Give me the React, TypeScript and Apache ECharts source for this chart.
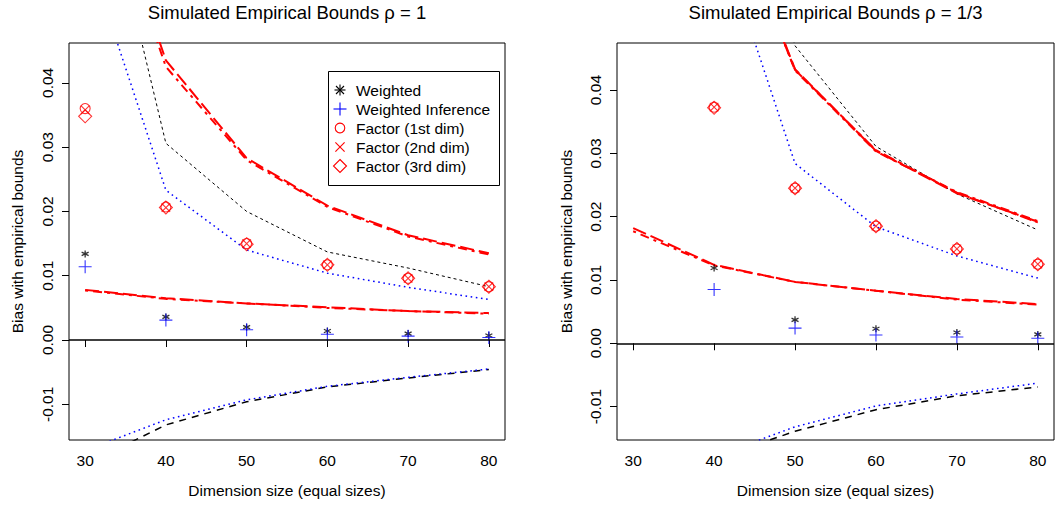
import React, { useEffect, useRef } from "react";
import * as echarts from "echarts";

const FONT = '"Liberation Sans", Arial, Helvetica, sans-serif';

const dims = [30, 40, 50, 60, 70, 80];
const xTicks = [30, 40, 50, 60, 70, 80];
const yTicks = [-0.01, 0, 0.01, 0.02, 0.03, 0.04];
const xTitle = "Dimension size (equal sizes)";
const yTitle = "Bias with empirical bounds";
const panelTitles = ["Simulated Empirical Bounds \u03C1 = 1", "Simulated Empirical Bounds \u03C1 = 1/3"];
const legendNames = ["Weighted", "Weighted Inference", "Factor (1st dim)", "Factor (2nd dim)", "Factor (3rd dim)"];

// ---- rho = 1 ----
const weighted1 = [0.0134, 0.0036, 0.002, 0.0014, 0.001, 0.0007];
const weightedInf1 = [0.0114, 0.0031, 0.0016, 0.0009, 0.0006, 0.0004];
const factor1st1 = [0.036, 0.0207, 0.015, 0.0117, 0.0096, 0.0083];
const factor2nd1 = [0.0358, 0.0206, 0.015, 0.0117, 0.0096, 0.0083];
const factor3rd1 = [0.0348, 0.0206, 0.0149, 0.0117, 0.0096, 0.0083];
const weightedUp1 = [0.0831, 0.0306, 0.02, 0.0137, 0.0112, 0.0083];
const weightedInfUp1 = [0.0614, 0.0233, 0.014, 0.0104, 0.0082, 0.0063];
const factorUpA1 = [0.08, 0.0435, 0.0283, 0.0209, 0.0163, 0.0135];
const factorUpB1 = [0.079, 0.0425, 0.028, 0.0207, 0.0161, 0.0133];
const factorLoA1 = [0.0078, 0.0065, 0.0057, 0.0051, 0.0045, 0.0042];
const factorLoB1 = [0.0077, 0.0064, 0.0057, 0.005, 0.0045, 0.0041];
const weightedLo1 = [-0.0194, -0.0132, -0.0096, -0.0073, -0.0059, -0.0046];
const weightedInfLo1 = [-0.0172, -0.0124, -0.0093, -0.0072, -0.0058, -0.0045];

// ---- rho = 1/3 ----
const weighted3 = [null, 0.0119, 0.0037, 0.0023, 0.0017, 0.0014];
const weightedInf3 = [null, 0.0085, 0.0024, 0.0013, 0.001, 0.0008];
const factor1st3 = [null, 0.0373, 0.0245, 0.0185, 0.0149, 0.0125];
const factor2nd3 = [null, 0.0373, 0.0245, 0.0185, 0.0149, 0.0125];
const factor3rd3 = [null, 0.0372, 0.0245, 0.0185, 0.0149, 0.0125];
const weightedUp3 = [0.15, 0.09, 0.047, 0.0311, 0.0236, 0.0179];
const weightedInfUp3 = [0.12, 0.0669, 0.0284, 0.0184, 0.0138, 0.0103];
const factorUpA3 = [0.14, 0.076, 0.0433, 0.0304, 0.0237, 0.0192];
const factorUpB3 = [0.14, 0.076, 0.0431, 0.0303, 0.0239, 0.0193];
const factorUpC3 = [0.14, 0.075, 0.0432, 0.0305, 0.0238, 0.0191];
const factorLoA3 = [0.0182, 0.0124, 0.0097, 0.0083, 0.007, 0.0062];
const factorLoB3 = [0.0177, 0.0123, 0.0097, 0.0083, 0.0069, 0.0061];
const weightedLo3 = [-0.03, -0.0183, -0.0139, -0.0105, -0.0083, -0.0069];
const weightedInfLo3 = [-0.028, -0.0179, -0.0132, -0.0099, -0.008, -0.0063];

const RED = "#ff0000";
const BLUE = "#0000ff";
const BLACK = "#000000";

const SYM_PLUS = "path://M0,5L10,5M5,0L5,10";
const SYM_CROSS = "path://M0,0L10,10M0,10L10,0";
const SYM_STAR = "path://M5,0L5,10M0.67,2.5L9.33,7.5M0.67,7.5L9.33,2.5";

const pts = (vals: (number | null)[]) => dims.map((d, i) => [d, vals[i]]);

function lineSeries(gi: number, vals: (number | null)[], color: string, width: number, dash: any, cap: string = "butt") {
  return {
    type: "line",
    xAxisIndex: gi,
    yAxisIndex: gi,
    data: pts(vals),
    symbol: "none",
    showSymbol: false,
    silent: true,
    clip: true,
    z: 2,
    lineStyle: { color, width, type: dash, cap },
    emphasis: { disabled: true },
  };
}

function scatterSeries(gi: number, name: string, vals: (number | null)[], symbol: string, size: number, color: string, bw: number) {
  return {
    type: "scatter",
    name,
    xAxisIndex: gi,
    yAxisIndex: gi,
    data: pts(vals).filter((p) => p[1] !== null),
    symbol,
    symbolSize: size,
    silent: true,
    z: 4,
    itemStyle: { color: "rgba(0,0,0,0)", borderColor: color, borderWidth: bw },
    emphasis: { disabled: true },
  };
}

function xAxisCfg(gi: number) {
  return {
    type: "value",
    gridIndex: gi,
    min: 28,
    max: 82,
    name: xTitle,
    nameLocation: "middle",
    nameGap: 42,
    nameTextStyle: { fontSize: 15.5, color: BLACK, fontFamily: FONT },
    axisLine: { show: false },
    splitLine: { show: false },
    axisTick: { show: true, length: 7, customValues: xTicks, lineStyle: { color: BLACK, width: 1 } },
    axisLabel: { customValues: xTicks, margin: 12, fontSize: 15.5, color: BLACK, fontFamily: FONT },
  };
}

function yAxisCfg(gi: number, min: number, max: number, gap: number) {
  return {
    type: "value",
    gridIndex: gi,
    min,
    max,
    name: yTitle,
    nameLocation: "middle",
    nameGap: gap,
    nameTextStyle: { fontSize: 15.5, color: BLACK, fontFamily: FONT },
    axisLine: { show: false },
    splitLine: { show: false },
    axisTick: { show: true, length: 7, customValues: yTicks, lineStyle: { color: BLACK, width: 1 } },
    axisLabel: {
      customValues: yTicks,
      rotate: 90,
      margin: 14,
      fontSize: 15.5,
      color: BLACK,
      fontFamily: FONT,
      formatter: (v: number) => (Math.abs(v) < 1e-9 ? "0.00" : v.toFixed(2)),
    },
  };
}

function zeroMark() {
  return {
    silent: true,
    symbol: "none",
    label: { show: false },
    lineStyle: { color: BLACK, width: 1.6, type: "solid" },
    data: [{ yAxis: 0 }],
  };
}

function buildLegend() {
  const x0 = 328;
  const y0 = 71;
  const cx = 340;
  const rowY = (i: number) => 90 + 19 * i;
  const els: any[] = [
    { type: "rect", shape: { x: x0 + 0.5, y: y0 + 0.5, width: 171, height: 114 }, style: { fill: "#fff", stroke: BLACK, lineWidth: 1 }, z: 10 },
  ];
  const ln = (x1: number, y1: number, x2: number, y2: number, c: string) => ({
    type: "line",
    shape: { x1, y1, x2, y2 },
    style: { stroke: c, lineWidth: 1.1 },
    z: 11,
  });
  let y = rowY(0);
  els.push(ln(cx - 5.5, y, cx + 5.5, y, BLACK), ln(cx, y - 5.5, cx, y + 5.5, BLACK), ln(cx - 4, y - 4, cx + 4, y + 4, BLACK), ln(cx - 4, y + 4, cx + 4, y - 4, BLACK));
  y = rowY(1);
  els.push(ln(cx - 6.5, y, cx + 6.5, y, BLUE), ln(cx, y - 6.5, cx, y + 6.5, BLUE));
  y = rowY(2);
  els.push({ type: "circle", shape: { cx, cy: y, r: 4.8 }, style: { fill: "none", stroke: RED, lineWidth: 1.1 }, z: 11 });
  y = rowY(3);
  els.push(ln(cx - 4.6, y - 4.6, cx + 4.6, y + 4.6, RED), ln(cx - 4.6, y + 4.6, cx + 4.6, y - 4.6, RED));
  y = rowY(4);
  els.push({ type: "polygon", shape: { points: [[cx, y - 6.5], [cx + 6.5, y], [cx, y + 6.5], [cx - 6.5, y]] }, style: { fill: "none", stroke: RED, lineWidth: 1.1 }, z: 11 });
  legendNames.forEach((n, i) => {
    els.push({
      type: "text",
      x: 356,
      y: rowY(i),
      style: { text: n, fontSize: 15.5, fontFamily: FONT, fill: BLACK, align: "left", verticalAlign: "middle" },
      z: 11,
    });
  });
  return els;
}

export default function App() {
  const ref = useRef<HTMLDivElement>(null);
  useEffect(() => {
    if (!ref.current) return;
    const chart = echarts.init(ref.current, null, { renderer: "svg" });
    const DOT = [1.6, 3.6];
    const FINE = [3, 3];
    const LONG = [14, 5];
    const DOTDASH = [3, 5, 9, 5];
    const TWODASH = [5, 4, 12, 4];
    const series: any[] = [
      { ...lineSeries(0, weightedUp1, BLACK, 1, FINE), markLine: zeroMark() },
      lineSeries(0, weightedInfUp1, BLUE, 1.5, DOT),
      lineSeries(0, factorUpA1, RED, 2, LONG),
      lineSeries(0, factorUpB1, RED, 2, DOTDASH),
      lineSeries(0, factorLoA1, RED, 2, LONG),
      lineSeries(0, factorLoB1, RED, 2, DOTDASH),
      lineSeries(0, weightedLo1, BLACK, 1.5, [7, 6]),
      lineSeries(0, weightedInfLo1, BLUE, 1.5, DOT),
      scatterSeries(0, legendNames[0], weighted1, SYM_STAR, 7, BLACK, 1.3),
      scatterSeries(0, legendNames[1], weightedInf1, SYM_PLUS, 13, BLUE, 1.1),
      scatterSeries(0, legendNames[2], factor1st1, "circle", 10, RED, 1.1),
      scatterSeries(0, legendNames[3], factor2nd1, SYM_CROSS, 8.5, RED, 1.1),
      scatterSeries(0, legendNames[4], factor3rd1, "diamond", 13, RED, 1.1),
      { ...lineSeries(1, weightedUp3, BLACK, 1, FINE), markLine: zeroMark() },
      lineSeries(1, weightedInfUp3, BLUE, 1.5, DOT),
      lineSeries(1, factorUpA3, RED, 2, LONG),
      lineSeries(1, factorUpB3, RED, 2, DOTDASH),
      lineSeries(1, factorUpC3, RED, 2, TWODASH),
      lineSeries(1, factorLoA3, RED, 2, LONG),
      lineSeries(1, factorLoB3, RED, 2, DOTDASH),
      lineSeries(1, weightedLo3, BLACK, 1.5, [7, 6]),
      lineSeries(1, weightedInfLo3, BLUE, 1.5, DOT),
      scatterSeries(1, legendNames[0], weighted3, SYM_STAR, 7, BLACK, 1.3),
      scatterSeries(1, legendNames[1], weightedInf3, SYM_PLUS, 13, BLUE, 1.1),
      scatterSeries(1, legendNames[2], factor1st3, "circle", 10, RED, 1.1),
      scatterSeries(1, legendNames[3], factor2nd3, SYM_CROSS, 8.5, RED, 1.1),
      scatterSeries(1, legendNames[4], factor3rd3, "diamond", 13, RED, 1.1),
    ];
    chart.setOption({
      animation: false,
      backgroundColor: "#ffffff",
      textStyle: { fontFamily: FONT },
      grid: [
        { left: 69, top: 43, width: 436, height: 397, show: true, borderColor: BLACK, borderWidth: 1, backgroundColor: "transparent" },
        { left: 617, top: 43, width: 437, height: 397, show: true, borderColor: BLACK, borderWidth: 1, backgroundColor: "transparent" },
      ],
      xAxis: [xAxisCfg(0), xAxisCfg(1)],
      yAxis: [yAxisCfg(0, -0.01555, 0.0462, 44), yAxisCfg(1, -0.01528, 0.04744, 43)],
      series,
      graphic: [
        {
          type: "text",
          x: 287,
          y: 12,
          style: { text: panelTitles[0], fontSize: 18.5, fontFamily: FONT, fill: BLACK, align: "center", verticalAlign: "middle" },
        },
        {
          type: "text",
          x: 835.5,
          y: 12,
          style: { text: panelTitles[1], fontSize: 18.5, fontFamily: FONT, fill: BLACK, align: "center", verticalAlign: "middle" },
        },
        ...buildLegend(),
      ],
    });
    return () => chart.dispose();
  }, []);
  return <div ref={ref} style={{ position: "fixed", left: 0, top: 0, width: 1059, height: 508 }} />;
}
